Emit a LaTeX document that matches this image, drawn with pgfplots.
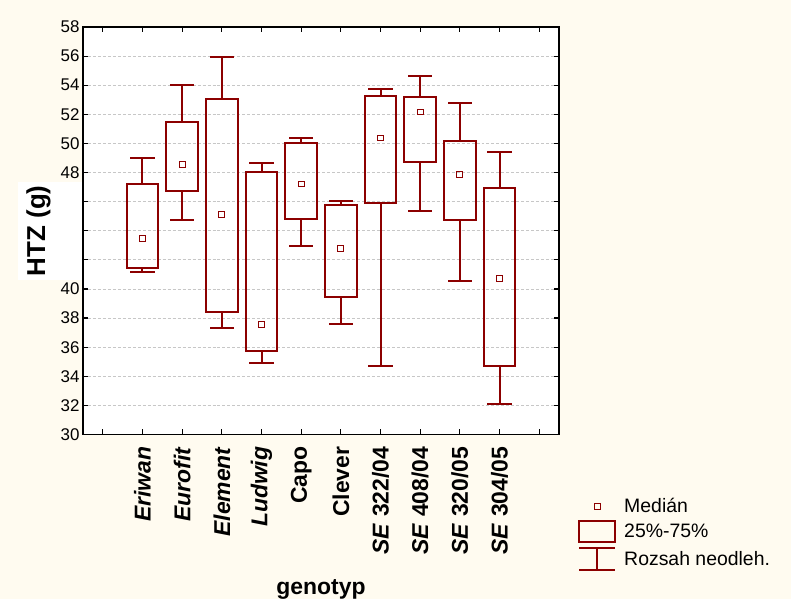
\documentclass[border=0pt]{standalone}
\usepackage{pgfplots}
\pgfplotsset{compat=1.18}
\usepackage{fontspec}
\setmainfont{Liberation Sans}
\definecolor{bgcol}{RGB}{255,251,240}
\definecolor{boxcol}{RGB}{140,0,0}
\pgfplotsset{boxline/.style={boxcol, line width=2bp, line cap=rect, line join=miter, unbounded coords=jump, mark=none, forget plot}}
\begin{document}
\begin{tikzpicture}
\fill[bgcol] (-83bp,-164.5bp) rectangle (708bp,434.5bp);
\begin{axis}[
  scale only axis,
  width=476bp, height=407.5bp,
  xmin=-0.5, xmax=11.5,
  ymin=30, ymax=58,
  xtick={0,1,2,3,4,5,6,7,8,9,10,11},
  xticklabels={,\textit{Eriwan},\textit{Eurofit},\textit{Element},\textit{Ludwig},Capo,Clever,\textit{SE} 322/04,\textit{SE} 408/04,\textit{SE} 320/05,\textit{SE} 304/05,},
  ytick={30,32,34,36,38,40,42,44,46,48,50,52,54,56,58},
  yticklabels={30,32,34,36,38,40,,,,48,50,52,54,56,58},
  xticklabel style={rotate=90, anchor=east, inner xsep=12bp, font=\fontsize{23}{26}\selectfont\bfseries},
  yticklabel style={font=\fontsize{17}{20}\selectfont},
  /pgf/number format/assume math mode=true,
  tick align=inside,
  xtick pos=both, ytick pos=both,
  major tick length=5bp,
  tick style={black, line width=1.2bp},
  axis line style={black, line width=1.6bp},
  axis background/.style={fill=white},
  ymajorgrids,
  grid style={densely dashed, black!22, line width=0.8bp},
  xlabel={genotyp},
  xlabel style={at={(axis description cs:0.5,-0.38)}, anchor=center, font=\fontsize{23}{26}\selectfont\bfseries},
  ylabel={HTZ (g)\rule[-37bp]{0pt}{64bp}},
  ylabel style={at={(axis description cs:-0.0798,0.5)}, anchor=base, fill=white, inner sep=0pt, minimum width=98bp, font=\fontsize{26}{28}\selectfont\bfseries},
  legend style={at={(axis description cs:1.04,-0.152)}, anchor=north west, draw=none, fill=none, inner sep=0pt, row sep=4bp, column sep=6bp, font=\fontsize{19.5}{22}\selectfont, nodes={inner sep=2bp}},
  legend cell align=left,
]
% Eriwan
\addplot[boxline] coordinates {(0.6,41.45) (1.4,41.45) (1.4,47.24) (0.6,47.24) (0.6,41.45) (1,nan) (1,47.24) (1,48.97) (1,nan) (0.72,48.97) (1.28,48.97) (1,nan) (1,41.45) (1,41.14) (1,nan) (0.72,41.14) (1.28,41.14)};
% Eurofit
\addplot[boxline] coordinates {(1.6,46.76) (2.4,46.76) (2.4,51.47) (1.6,51.47) (1.6,46.76) (2,nan) (2,51.47) (2,54.0) (2,nan) (1.72,54.0) (2.28,54.0) (2,nan) (2,46.76) (2,44.76) (2,nan) (1.72,44.76) (2.28,44.76)};
% Element
\addplot[boxline] coordinates {(2.6,38.43) (3.4,38.43) (3.4,53.03) (2.6,53.03) (2.6,38.43) (3,nan) (3,53.03) (3,55.97) (3,nan) (2.72,55.97) (3.28,55.97) (3,nan) (3,38.43) (3,37.35) (3,nan) (2.72,37.35) (3.28,37.35)};
% Ludwig
\addplot[boxline] coordinates {(3.6,35.72) (4.4,35.72) (4.4,48.02) (3.6,48.02) (3.6,35.72) (4,nan) (4,48.02) (4,48.66) (4,nan) (3.72,48.66) (4.28,48.66) (4,nan) (4,35.72) (4,34.94) (4,nan) (3.72,34.94) (4.28,34.94)};
% Capo
\addplot[boxline] coordinates {(4.6,44.83) (5.4,44.83) (5.4,50.0) (4.6,50.0) (4.6,44.83) (5,nan) (5,50.0) (5,50.39) (5,nan) (4.72,50.39) (5.28,50.39) (5,nan) (5,44.83) (5,42.94) (5,nan) (4.72,42.94) (5.28,42.94)};
% Clever
\addplot[boxline] coordinates {(5.6,39.42) (6.4,39.42) (6.4,45.74) (5.6,45.74) (5.6,39.42) (6,nan) (6,45.74) (6,46.04) (6,nan) (5.72,46.04) (6.28,46.04) (6,nan) (6,39.42) (6,37.59) (6,nan) (5.72,37.59) (6.28,37.59)};
% SE 322/04
\addplot[boxline] coordinates {(6.6,45.88) (7.4,45.88) (7.4,53.28) (6.6,53.28) (6.6,45.88) (7,nan) (7,53.28) (7,53.77) (7,nan) (6.72,53.77) (7.28,53.77) (7,nan) (7,45.88) (7,34.73) (7,nan) (6.72,34.73) (7.28,34.73)};
% SE 408/04
\addplot[boxline] coordinates {(7.6,48.69) (8.4,48.69) (8.4,53.21) (7.6,53.21) (7.6,48.69) (8,nan) (8,53.21) (8,54.6) (8,nan) (7.72,54.6) (8.28,54.6) (8,nan) (8,48.69) (8,45.35) (8,nan) (7.72,45.35) (8.28,45.35)};
% SE 320/05
\addplot[boxline] coordinates {(8.6,44.76) (9.4,44.76) (9.4,50.16) (8.6,50.16) (8.6,44.76) (9,nan) (9,50.16) (9,52.8) (9,nan) (8.72,52.8) (9.28,52.8) (9,nan) (9,44.76) (9,40.55) (9,nan) (8.72,40.55) (9.28,40.55)};
% SE 304/05
\addplot[boxline] coordinates {(9.6,34.73) (10.4,34.73) (10.4,46.97) (9.6,46.97) (9.6,34.73) (10,nan) (10,46.97) (10,49.38) (10,nan) (9.72,49.38) (10.28,49.38) (10,nan) (10,34.73) (10,32.11) (10,nan) (9.72,32.11) (10.28,32.11)};
% medians
\addplot[forget plot, only marks, mark=square, mark size=2.9bp, boxcol, mark options={line width=1.1bp, fill=white}] coordinates {
(1,43.47) (2,48.57) (3,45.12) (4,37.56) (5,47.21) (6,42.78) (7,50.37) (8,52.16) (9,47.88) (10,40.73)};
\addlegendimage{legend image code/.code={\draw[boxcol, line width=1.1bp, mark=square, mark size=2.9bp] plot coordinates {(18bp,0bp)};}}
\addlegendentry{Medián}
\addlegendimage{legend image code/.code={\draw[boxcol, line width=2bp] (0bp,-10.5bp) rectangle (36bp,10.5bp);}}
\addlegendentry{25\%-75\%}
\addlegendimage{legend image code/.code={\draw[boxcol, line width=2bp] (0bp,11bp) -- (36bp,11bp) (18bp,11bp) -- (18bp,-11bp) (0bp,-11bp) -- (36bp,-11bp);}}
\addlegendentry{Rozsah neodleh.}
\end{axis}
\end{tikzpicture}
\end{document}
